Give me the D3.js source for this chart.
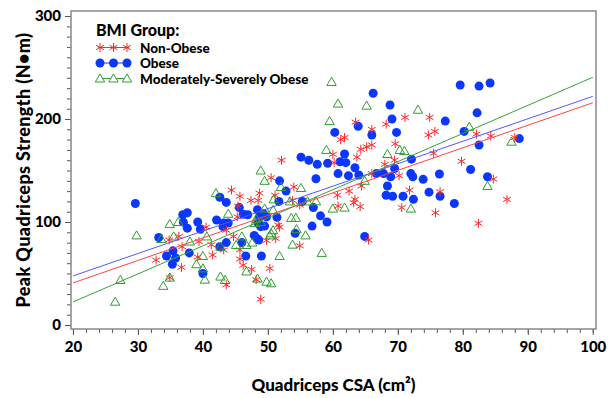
<!DOCTYPE html>
<html>
<head>
<meta charset="utf-8">
<script src="https://cdn.jsdelivr.net/npm/d3@7"></script>
<style>
  body { margin: 0; background: #fff; }
  text { font-family: Lato, "DejaVu Sans", sans-serif; font-weight: 900; fill: #000; }
</style>
</head>
<body>
<div id="chart"></div>
<script>
// scatter data, [quadriceps CSA (cm2), peak strength (N-m)]
var nonObese = [
  [34.9,46],[34.8,82.5],[36.3,86],[32.8,63],[36.8,76],[39.2,66],[39.4,81],[36.7,56],[40.5,95],
  [60.2,157.5],[52.1,160],[50.5,143],[54,134],[44.4,131],[45.7,125],[48.7,128],[51.1,126],[47.4,121],
  [48.5,121],[53.8,121],[54.9,116.5],[45.4,115.5],[45.3,105],[43.6,92],[44.7,86],[51.6,97],[51.8,95],
  [51.2,84],[49.8,82],[43.2,72.8],[41.5,68],[54.9,77],[45.7,73],[45.7,64],[46.2,58],[47.5,54],[50.3,55],
  [48.2,44],[43.6,39],[48.9,25],[41.3,78],
  [60,165.7],[63.5,197],[71.1,201.6],[74.9,201.6],[68.2,195],[66,190],[75.7,188],[74.7,184.5],[61.8,182],
  [61.2,180],[69.6,176],[66,174.8],[65.2,173],[64.3,170.6],[63.7,163],[75.5,166.7],[79.8,159],[69.5,160],
  [68,156],[66,147],[70.2,145],[64.4,135],[60.7,126],[62.5,130],[71.8,131],[76.5,129.4],[63.4,122],
  [63.2,118.7],[64.2,115],[60.8,115.5],[70.6,114],[75.8,109],[65.5,82.5],
  [82.1,185.4],[84.3,183.5],[88,182],[84.7,141.7],[86.8,122],[82.4,98.7]
];
var obese = [
  [29.6,118],[36.9,107],[37.6,109],[37,99.7],[37.6,94],[39.2,100],[39.6,93],[33.2,85],[35.4,72],[34.4,67],
  [35.8,65],[35.3,59],[37.9,70],[40,50],
  [60.3,187],[55.1,163],[56.3,160],[57.6,156],[59.2,157],[60.8,147],[51.8,140],[57.4,142],[52.8,130],
  [42.6,124],[43.6,119],[51.7,120],[55.3,120],[45.6,114],[46.2,107.5],[46.9,107],[48.4,112],[49.3,108],
  [48.7,105],[49.8,105],[51.4,104.5],[57,114],[58.1,106],[59.1,100],[42.1,102],[43.2,99],[43.9,99],
  [43.1,95.5],[48.5,99],[48.9,95.5],[49.5,96],[47.9,87],[48.3,84],[48.6,82.5],[46,80],[43.6,80],[42.6,76],
  [54.2,89],[56.8,96],[46.6,67],[49,67],
  [66.2,225],[68.8,213.6],[79.6,233],[69.1,200],[77.3,198],[63.9,193],[69.8,187],[66,184.5],[61.8,166],
  [72.1,161],[61.1,158.5],[62,157.6],[63.4,152.7],[69.5,152],[62.4,145],[64,145.6],[66.7,147],[67.8,147],
  [68.9,144],[72,147],[72.3,144],[73.9,141.4],[76.4,146.6],[68.4,135],[68.2,126],[69.2,125],[70.8,125],
  [72.4,122],[74.8,129],[76.5,125],[78.7,118],[64.9,86],
  [82.5,232],[84.2,235],[82.2,206],[80.2,188],[82.5,174.8],[88.7,181],[81.2,151],[83.8,144]
];
var modSevObese = [
  [29.8,87],[34.9,98],[36.2,100],[35.5,86],[33.6,83.5],[38,81],[27.3,43.7],[26.5,22.6],[33.9,38],[34.9,46],
  [39,59],[40,55],[40,67],[40.3,44],[40.6,86],
  [59.5,198],[59,170],[48.9,150],[49.5,140],[52,134],[55.1,133],[42,128],[50.9,122],[53.4,120],[56.1,120],
  [57.4,120],[43.9,108],[49.5,113],[50.8,111.6],[48.2,103],[53.6,104],[54.3,104],[46,86],[48,99],[48.9,100],
  [50.5,89],[50.3,87],[50.8,92],[46.7,77.7],[47.6,80],[45.1,77.7],[42.7,76],[55.8,87],[53.8,78],[54.4,93],
  [46.7,52],[51.8,67],[58.3,70],[48.4,45],[49.8,42],[50.5,40.5],[42.7,47],[43.4,43.7],
  [59.8,236],[60.8,215],[65.2,213],[73.1,209],[68.4,166],[70.3,170],[71,169],[64.9,140],[61.8,114],
  [60,113],[72,113],
  [81,192.5],[87.5,178],[83.8,135]
];

// regression lines per group: [intercept, slope]
var fitNonObese = [-2.95, 2.1875];
var fitObese = [4.0, 2.18];
var fitModSev = [-32.25, 2.7275];

var groupNames = ["Non-Obese", "Obese", "Moderately-Severely Obese"];
var xTicks = [20, 30, 40, 50, 60, 70, 80, 90, 100];
var yTicks = [0, 100, 200, 300];

var colors = { red: "#ff2a2a", blue: "#0a37ff", green: "#2f9e2f" };

var width = 612, height = 398;
var frame = { left: 71, right: 596, top: 11, bottom: 329 };

var svg = d3.select("#chart")
    .append("svg")
    .attr("width", width)
    .attr("height", height);

// scales - 20 sits at x=73, 100 at x=593; 0 at y=325, 300 at y=16
var x = d3.scaleLinear().domain([19.7, 100.5]).range([frame.left, frame.right]);
var y = d3.scaleLinear().domain([-3.9, 304.9]).range([frame.bottom, frame.top]);

// minor + major ticks
svg.append("g")
    .attr("transform", `translate(0,${frame.bottom})`)
    .call(d3.axisBottom(x).tickValues(d3.range(20, 101, 2)).tickSize(4).tickFormat(""))
    .call(g => g.select(".domain").remove());
svg.append("g")
    .attr("class", "xaxis")
    .attr("transform", `translate(0,${frame.bottom})`)
    .call(d3.axisBottom(x).tickValues(xTicks).tickSize(6).tickPadding(6))
    .call(g => g.select(".domain").remove());

svg.append("g")
    .attr("transform", `translate(${frame.left},0)`)
    .call(d3.axisLeft(y).tickValues(d3.range(0, 301, 10)).tickSize(4).tickFormat(""))
    .call(g => g.select(".domain").remove());
svg.append("g")
    .attr("class", "yaxis")
    .attr("transform", `translate(${frame.left},0)`)
    .call(d3.axisLeft(y).tickValues(yTicks).tickSize(6).tickPadding(4))
    .call(g => g.select(".domain").remove());

svg.selectAll(".tick line").attr("stroke", "#555");
svg.selectAll(".xaxis text, .yaxis text")
    .style("font-size", "15px")
    .style("font-family", "Lato, sans-serif")
    .style("font-weight", "900")
    .attr("fill", "#000");

// frame
svg.append("rect")
    .attr("x", frame.left)
    .attr("y", frame.top)
    .attr("width", frame.right - frame.left)
    .attr("height", frame.bottom - frame.top)
    .attr("fill", "none")
    .attr("stroke", "#888")
    .attr("stroke-width", 1.5);

// axis titles
svg.append("text")
    .attr("x", (frame.left + frame.right) / 2)
    .attr("y", 391)
    .attr("text-anchor", "middle")
    .style("font-size", "17px")
    .text("Quadriceps CSA (cm²)");

svg.append("text")
    .attr("transform", `translate(30,${(frame.top + frame.bottom) / 2}) rotate(-90)`)
    .attr("text-anchor", "middle")
    .style("font-size", "18px")
    .style("letter-spacing", "0.4px")
    .text("Peak Quadriceps Strength (N•m)");

// marker shapes
var star = "M0,-4.5L0,4.5M-3.9,-2.25L3.9,2.25M-3.9,2.25L3.9,-2.25";
var triangle = d3.symbol().type(d3.symbolTriangle).size(38)();

function drawStars(g, data) {
  g.selectAll("path").data(data).enter().append("path")
    .attr("transform", d => `translate(${x(d[0])},${y(d[1])})`)
    .attr("d", star)
    .attr("fill", "none")
    .attr("stroke", colors.red)
    .attr("stroke-width", 1);
}
function drawDots(g, data) {
  g.selectAll("circle").data(data).enter().append("circle")
    .attr("cx", d => x(d[0]))
    .attr("cy", d => y(d[1]))
    .attr("r", 4.5)
    .attr("fill", colors.blue);
}
function drawTriangles(g, data) {
  g.selectAll("path").data(data).enter().append("path")
    .attr("transform", d => `translate(${x(d[0])},${y(d[1]) + 0.8})`)
    .attr("d", triangle)
    .attr("fill", "none")
    .attr("stroke", colors.green)
    .attr("stroke-width", 1);
}

drawDots(svg.append("g"), obese);
drawStars(svg.append("g"), nonObese);
drawTriangles(svg.append("g"), modSevObese);

// fit lines across the full x range
var fits = [[fitObese, "#5555ff"], [fitNonObese, "#ff4444"], [fitModSev, "#3aa03a"]];
fits.forEach(function(f) {
  svg.append("line")
    .attr("x1", x(20)).attr("y1", y(f[0][0] + f[0][1] * 20))
    .attr("x2", x(100)).attr("y2", y(f[0][0] + f[0][1] * 100))
    .attr("stroke", f[1])
    .attr("stroke-width", 1);
});

// legend
var legend = svg.append("g");
legend.append("text")
    .attr("x", 96).attr("y", 36)
    .style("font-size", "16px")
    .text("BMI Group:");

var legendY = [47.5, 63, 78.5];
var legendColor = [colors.red, colors.blue, colors.green];
groupNames.forEach(function(name, i) {
  var row = legend.append("g");
  row.append("line")
    .attr("x1", 98).attr("x2", 129)
    .attr("y1", legendY[i]).attr("y2", legendY[i])
    .attr("stroke", legendColor[i]);
  [100, 113.5, 127].forEach(function(px) {
    var g = row.append("g");
    if (i === 0) g.append("path").attr("transform", `translate(${px},${legendY[i]})`).attr("d", star)
        .attr("fill", "none").attr("stroke", colors.red);
    if (i === 1) g.append("circle").attr("cx", px).attr("cy", legendY[i]).attr("r", 4.5).attr("fill", colors.blue);
    if (i === 2) g.append("path").attr("transform", `translate(${px},${legendY[i] + 0.8})`).attr("d", triangle)
        .attr("fill", "#fff").attr("stroke", colors.green);
  });
  row.append("text")
    .attr("x", 140).attr("y", legendY[i] + 5)
    .style("font-size", "13.5px")
    .text(name);
});
</script>
</body>
</html>
